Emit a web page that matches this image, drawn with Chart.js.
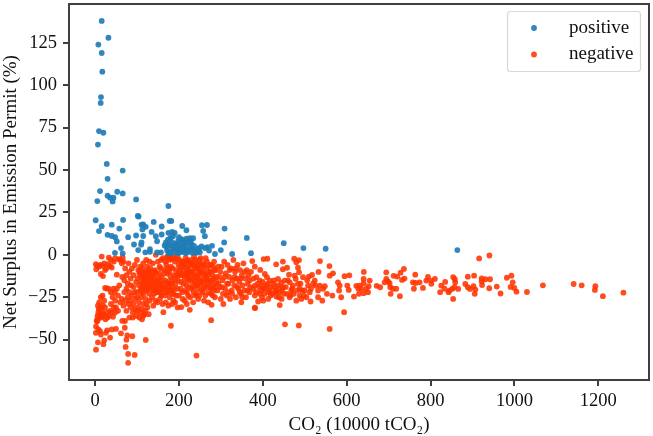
<!DOCTYPE html>
<html>
<head>
<meta charset="utf-8">
<script src="https://cdn.jsdelivr.net/npm/chart.js@4"></script>
<style>
body{margin:0;background:#fff}
canvas{display:block}
</style>
</head>
<body>
<canvas id="chart" width="653" height="436"></canvas>
<script>
const xTitle = 'CO\u2082 (10000 tCO\u2082)';
const yTitle = 'Net Surplus in Emission Permit (%)';
const xTicks = [0, 200, 400, 600, 800, 1000, 1200];
const yTicks = [-50, -25, 0, 25, 50, 75, 100, 125];

const positive = [
[16,137.9],[32,128],[8,124],[16,119],[17.5,108],[14.3,93],[13.5,89.6],[9.5,73],[20,72],
[7,65],[28,53.6],[66,49.7],[30,44.8],[12,37.6],[53,37.2],[66,36.2],[30,34.9],[36,33.7],[44,33.7],[42,31.5],[5.5,31.7],[98,32.7],
[175,28.8],[102,22.9],[104,22.6],[1.6,20.4],[67,20.6],[178,20],[182,20],[140,19.4],[40,17.8],[16,16.9],[111,17.8],[115,18],[121,16.5],[159,16.7],[208,17],[255,17.5],[267,17.6],[309,15.5],[58,15.5],[9.5,14],[218,14.5],[258,14.1],[135,13.5],[113,15],[175,13],[190,13],[184,13.5],
[30,11.8],[40,11.1],[48,10.4],[79,10.4],[98,11.4],[115,11.1],[145,11],[159,12],[262,11],[362,10],[52,7.9],[93,6.1],[111,7.3],[148,8],[206,9.3],[218,9.5],[226,9.8],[234,9.8],[308,7.3],[169,7.3],[110,6],[198,8],[212,8.5],[180,10],[186,11],[200,10.5],[174,9],[192,6.5],
[62,4],[103,2.8],[131,3.4],[171,4.4],[196,5.5],[204,4.5],[230,6.3],[246,4],[262,4],[279,5.3],[300,2.8],[47.6,1.2],[66,0.8],[120,1.5],[131,1.8],[148,1.4],[157,1.4],[178,2],[194,1.5],[210,2.2],[224,3],[238,2],[286,0.5],[327,0.5],[372,1],[176,1],[186,3],[202,2],[216,1],[232,1.2],[250,1.5],[272,2.5],[180,5.5],[214,4.5],[224,6.5],
[450,6.9],[497,4],[550,3.6],[864,2.8],
// thick patch just above zero
[172,2.5],[182,1],[188,4.6],[192,3.2],[198,1],[200,3.5],[206,1.6],[208,3.8],[212,5.5],[218,3.2],[220,1.4],[228,4.4],[234,3.4],[236,5.2],[242,1.2],[248,3],[254,5],[268,4.6],[174,6],[166,5.5],[184,7.5],[204,6.8],[216,7],[228,8]
];

const negative = [
// left edge, small emitters
[16,-1],[33,-1.7],[2,-5.5],[3,-8.5],[6,-6.5],[9,-7],[13,-6],[18,-6.5],[22,-5],[27,-8],[31,-5.5],[36,-6.5],[40,-7.5],[14,-11.3],[19,-12.5],[24,-9],[52,-11.7],[38,-3],[48,-2],[45,-4],[60,-3],[64,-5],[57,-2.5],[66,-1.5],
[24,-19.5],[28,-19.8],[32,-20],[18,-24],[14,-25],[22,-27],[10,-28],[19,-30],[24,-31],[16,-33],[12,-31],[8,-34],[6,-36],[6,-38],[10,-37],[14,-37],[17,-36],[20,-35],[24,-36],[28,-34],[33,-36],[36,-33],[30,-37],[25,-38],[40,-34],[43,-36.5],[45,-31],[38,-29],[48,-27],[42,-25],[38,-22],[44,-20],[47,-22],[52,-20],[55,-24],[58,-18],[60,-28],[64,-26],[50,-31],[55,-33],[48,-34],[7,-30],[12,-35],[9,-32],[4,-39],
[79,-63.7],[79,-58.4],[94.5,-59],[2.4,-55.9],[242,-59.4],[73,-54.3],[7,-51.6],[20,-52.7],[22,-50.4],[36,-48.8],[77,-47.5],[89,-48],[75,-50],[121,-50.2],[2,-46],[12,-45],[14,-47],[29,-44.5],[40,-44],[50,-43.7],[62,-46.3],[71,-43],[2.4,-42.2],[181,-41.8],[277,-38.5],[71.5,-39],[65,-38.9],[5.6,-39],[8,-44],[26,-46],
// 60 to 130
[65,-13],[70,-15],[75,-12],[78,-17],[82,-10],[85,-14],[88,-8],[92,-12],[95,-6],[80,-5],[72,-8],[68,-4],[100,-3],[103,-9],[108,-7],[110,-13],[115,-5],[118,-10],[122,-3],[125,-7],[128,-12],[130,-4],[98,-16],[105,-18],[112,-20],[118,-16],[122,-21],[125,-17],[130,-19],[70,-22],[75,-20],[78,-25],[82,-22],[88,-24],[92,-19],[96,-26],[100,-22],[105,-28],[110,-25],[115,-29],[120,-26],[125,-31],[130,-27],[68,-30],[72,-27],[75,-33],[80,-29],[85,-31],[90,-34],[95,-32],[100,-33],[108,-34],[115,-36],[120,-33],[128,-35],[82,-37],[90,-37],[98,-36],[106,-37],[112,-38],[118,-35],
[102,-14],[106,-11],[113,-8],[120,-14],[127,-9],[116,-23],[108,-21],[94,-22],[86,-18],[84,-27],[92,-29],[103,-31],[112,-32],[123,-29],[129,-23],[127,-15],[113,-17],[101,-25],[119,-19],
[107,-10],[110,-16],[112,-12],[115,-19],[117,-14],[121,-11],[124,-20],[126,-13],[129,-18],[131,-10],[133,-14],[136,-19],[138,-12],[140,-21],[142,-10],[144,-16],[146,-21],[111,-22],[114,-11],
// 130 to 200, densest band
[132,-8],[135,-13],[138,-5],[140,-17],[143,-9],[145,0],[147,-22],[150,-4],[152,-14],[155,-26],[157,-8],[160,-19],[162,-2],[165,-11],[167,-24],[170,-6],[172,-16],[175,-30],[177,-3],[180,-13],[182,-21],[185,-8],[187,-27],[190,-4],[192,-17],[195,-12],[197,-31],[199,-6],
[133,-20],[136,-25],[139,-30],[142,-14],[146,-11],[149,-28],[151,-19],[154,-7],[156,-21],[159,-13],[161,-29],[163,-33.8],[164,-17],[166,-9],[168,-4],[171,-22],[173,-11],[176,-19],[178,-25],[181,-7],[183,-15],[186,-23],[188,-12],[191,-28],[193,-9],[196,-20],[198,-15],[200,-24],
[134,-16],[137,-10],[141,-23],[144,-27],[148,-15],[153,-11],[158,-24],[169,-28],[174,-8],[179,-17],[184,-29],[189,-20],[194,-24],[186,-2],[172,-1],[158,-3],[143,-19],[155,-17],[165,-20],[177,-10],[191,-14],[199,-11],
[150,-18],[153,-22],[157,-16],[160,-23],[163,-20],[167,-15],[170,-19],[174,-22],[177,-17],[181,-20],[184,-17],[188,-23],[174,-1.5],[178,-0.5],[182,-2.5],[188,-1],[194,-2.5],[197,-1],
// 200 to 300
[201,-3],[203,-9],[205,-16],[206,-30.8],[208,-22],[210,-6],[212,-12],[214,-27],[216,-2],[218,-18],[220,-8],[222,-24],[224,-14],[226,-32.4],[228,-5],[230,-20],[232,-10],[234,-28],[236,-1],[238,-16],[240,-7],[242,-23],[244,-12],[246,-26],[248,-3],[250,-18],[252,-9],[254,-21],[256,-5],[258,-14],[260,-27],[262,-11],[264,-2],[266,-19],[268,-8],[270,-28],[272,-15],[274,-6],[276,-23],[278,-29.5],[280,-12],[282,-18],[284,-4],[286,-25],[288,-9],[290,-16],[292,-21],[294,-7],[296,-13],[298,-19],[300,-26],
[204,-20],[207,-12],[209,-26],[211,-17],[213,-5],[215,-21],[217,-11],[219,-29],[221,-15],[223,-4],[225,-19],[227,-25],[229,-10],[231,-16],[233,-6],[235,-22],[237,-13],[239,-3],[241,-18],[243,-8],[245,-20],[247,-14],[249,-24],[251,-6],[253,-16],[255,-11],[257,-22],[259,-7],[261,-18],[263,-24],[265,-13],[267,-4],[269,-17],[271,-22],[273,-10],[275,-16],[277,-6],[279,-20],[281,-24],[283,-14],[285,-9],[287,-19],
[209,-9],[214,-14],[219,-22],[224,-9],[229,-14],[234,-19],[239,-24],[244,-17],[249,-11],[254,-16],[259,-20],[264,-15],[269,-12],[274,-19],[279,-15],[284,-21],[289,-13],[294,-17],[299,-10],
[211,-4],[215,-7],[218,-12],[221,-3],[223,-11],[226,-6],[228,-13],[231,-3],[233,-10],[236,-7],[238,-12],[241,-5],[243,-14],[246,-9],[202,-12],[205,-7],[207,-4],[247,-6],[252,-2],[258,-10],[262,-6],[268,-15],[276,-10],[282,-7],
// 300 to 370
[302,-7],[304,-15],[306,-29],[308,-4],[310,-20],[312,-11],[314,-24],[316,-6],[318,-17],[320,-13],[322,-26],[324,-8],[326,-21],[328,-15],[330,-3],[332,-18],[334,-10],[336,-25],[338,-14],[340,-6],[342,-20],[344,-16],[346,-9],[348,-23],[349,-28],[350,-12],[352,-18],[354,-5],[356,-21],[358,-14],[360,-25],[362,-9],[364,-17],[366,-12],[368,-22],[370,-19],
[303,-19],[309,-13],[315,-17],[321,-9],[327,-23],[333,-13],[339,-19],[345,-22],[351,-25],[357,-10],[363,-21],[369,-15],[305,-23],[317,-22],[335,-8],[347,-14],
// 370 to 540
[375,-3.7],[402,-2.5],[411,-2.3],[432,-5.6],[448,-4],[475,-2.3],[486.5,-3.1],[480,-4.4],[536.5,-3.7],[458,-7.6],[448,-8.5],[484,-7.6],[559,-6.6],[381,-7],[394,-8.9],[486.5,-10.3],[533,-10.1],[567.5,-10.9],[559.6,-12.3],[595,-12.6],[606.4,-12.1],[641,-10.1],[694.5,-10.3],[736.6,-8.3],[728.7,-10.5],[763.6,-11.7],[720.7,-12.8],[712,-12.4],[738,-14],[732,-14.8],[794,-13],[810.5,-14.2],[802,-15.2],[758,-16.2],[774,-16.2],[764.4,-16.6],[790,-15.2],[835,-16],[655,-15.2],[640.5,-14.2],[640.5,-16.7],[694.5,-14.2],[698.5,-15.6],[690.6,-16.2],[702.5,-16.7],[671.5,-18.3],[680,-19.1],[652.5,-18.5],[647,-20],[623,-18.3],[631,-18.1],[628,-20],[635,-20],[601.6,-18.1],[605,-20.7],[579.4,-16.2],[583.4,-18.1],[582,-21],[536,-18.1],[548,-18.5],[524,-15.2],[526,-18.1],[532,-21],[544,-20],[553,-23],[566,-24],[587,-25],[617.5,-24.6],[629.4,-23],[640.5,-22.6],[651,-22],[704,-19.1],[710.4,-20],[718.4,-20],[705,-23],[727,-24.4],[760.4,-20],[782,-19.5],[802,-17.1],[825.6,-18.1],[823,-22],[833.5,-20],[843,-22],[532,-25],[542,-27],[514,-27.5],[492,-26],[480,-27],[464,-25],[440.5,-29.6],[381.7,-31.4],[594,-33.8],[453,-41],[486,-41.6],[559.6,-43.7],[401,-27],[389,-27.5],[413,-26],[432.5,-24.6],
[385,-13.2],[393,-15.2],[381,-18.1],[377,-20],[405,-11.3],[410,-13.2],[417,-15.2],[425,-17.1],[436.5,-14.2],[444.4,-16.2],[448.4,-19.1],[462.7,-11.7],[464.3,-16.2],[476,-12.3],[478.6,-14.2],[484,-17.1],[488,-20],[496,-13.2],[510,-12.8],[517.5,-11.9],[508,-18.1],[500,-21],[488,-24],[468,-21],[458,-23],[432.5,-21],[417,-21],[401,-20],[393,-23],[381,-24],[409,-18.1],[397,-18.1],[428.6,-19.1],[440.5,-22],[472,-18.1],[452.4,-15.2],[512,-22],[504,-25],
[372,-10],[378,-14],[384,-22],[388,-17],[391,-19],[396,-21],[400,-16],[404,-23],[407,-20],[412,-17],[414,-22],[420,-19],[423,-23],[427,-15],[430,-22],[435,-18],[438,-25],[442,-19],[446,-21],[450,-23],[455,-19],[460,-15],[466,-24],[470,-20],[474,-23],[482,-21],[490,-17],[494,-21],[498,-24],[506,-15],[515,-20],[520,-17],[381,-31.2],[398,-25],[419,-24],[445,-26],
// far right tail
[916,-2.1],[940.5,-0.4],[854,-13.1],[858,-14.4],[859,-16.2],[889,-12.9],[904,-12.3],[922,-13.9],[931,-14.4],[942,-14.4],[922,-15.6],[982,-13.5],[993,-12.3],[996,-16.2],[883,-17.2],[902.6,-18.5],[889,-19.1],[894.4,-20.1],[907,-20.5],[923,-17.8],[958,-18.7],[940,-19.7],[991,-18.9],[1000,-19.5],[1005,-21.7],[1030,-21.9],[1068,-18],[1141.4,-17.2],[1160.4,-18],[1193,-18.5],[1192,-20.7],[1211,-24.4],[1260,-22.3],[967,-22.8],[905.5,-23],[854,-26],[866,-20.1],[851.6,-20.1],[845,-21.1],[857,-19.1]
];

const positiveColor = 'rgba(31,125,183,0.92)';
const negativeColor = 'rgba(255,52,0,0.88)';
const inkColor = '#3f3f3f';
const textColor = '#111';
const fontName = '"Liberation Serif","Times New Roman",serif';

// matplotlib style box round the plot and the legend in the top right corner
const framePlugin = {
    id: 'frame',
    afterDatasetsDraw(chart) {
        const c = chart.ctx;
        const a = chart.chartArea;
        c.save();
        c.strokeStyle = inkColor;
        c.lineWidth = 2;
        c.strokeRect(a.left, a.top, a.right - a.left, a.bottom - a.top);
        c.fillStyle = 'rgba(255,255,255,0.8)';
        c.strokeStyle = '#d8d8d8';
        c.lineWidth = 1.2;
        c.beginPath();
        c.roundRect(507.5, 11.5, 133, 60, 3);
        c.fill();
        c.stroke();
        c.font = '19px ' + fontName;
        c.textBaseline = 'middle';
        chart.data.datasets.forEach(function (d, i) {
            const y = 28 + i * 26.5;
            c.fillStyle = d.backgroundColor;
            c.beginPath();
            c.arc(534, y, 2.9, 0, Math.PI * 2);
            c.fill();
            c.fillStyle = textColor;
            c.fillText(d.label, 569, y);
        });
        c.restore();
    }
};

new Chart(document.getElementById('chart'), {
    type: 'scatter',
    data: {
        datasets: [
            {
                label: 'positive',
                data: positive.map(p => ({ x: p[0], y: p[1] })),
                backgroundColor: positiveColor,
                pointRadius: 2.9,
                pointBorderWidth: 0
            },
            {
                label: 'negative',
                data: negative.map(p => ({ x: p[0], y: p[1] })),
                backgroundColor: negativeColor,
                pointRadius: 2.9,
                pointBorderWidth: 0
            }
        ]
    },
    options: {
        responsive: false,
        animation: false,
        devicePixelRatio: 1,
        layout: { padding: { top: 2, right: 3, left: 0, bottom: 0 } },
        plugins: { legend: { display: false }, tooltip: { enabled: false } },
        scales: {
            x: {
                min: -62,
                max: 1321,
                afterBuildTicks(s) { s.ticks = xTicks.map(v => ({ value: v })); },
                afterFit(s) { s.height = 56; s.paddingLeft = 0; s.paddingRight = 0; },
                border: { display: false },
                grid: { drawOnChartArea: false, tickLength: 6, tickColor: inkColor, lineWidth: 2 },
                ticks: { color: textColor, maxRotation: 0, autoSkip: false, padding: 4, font: { family: fontName, size: 18.5 }, callback: v => String(v) },
                title: { display: true, text: xTitle, color: textColor, padding: { top: 0, bottom: 0 }, font: { family: fontName, size: 19 } }
            },
            y: {
                min: -73.8,
                max: 147.9,
                afterBuildTicks(s) { s.ticks = yTicks.map(v => ({ value: v })); },
                afterFit(s) { s.width = 69; s.paddingTop = 0; s.paddingBottom = 0; },
                border: { display: false },
                grid: { drawOnChartArea: false, tickLength: 6, tickColor: inkColor, lineWidth: 2 },
                ticks: {
                    color: textColor,
                    autoSkip: false,
                    padding: 6,
                    font: { family: fontName, size: 18.5 },
                    callback: v => String(v).replace('-', '\u2212')
                },
                title: { display: true, text: yTitle, color: textColor, padding: { top: 0, bottom: 0 }, font: { family: fontName, size: 19 } }
            }
        }
    },
    plugins: [framePlugin]
});
</script>
</body>
</html>
